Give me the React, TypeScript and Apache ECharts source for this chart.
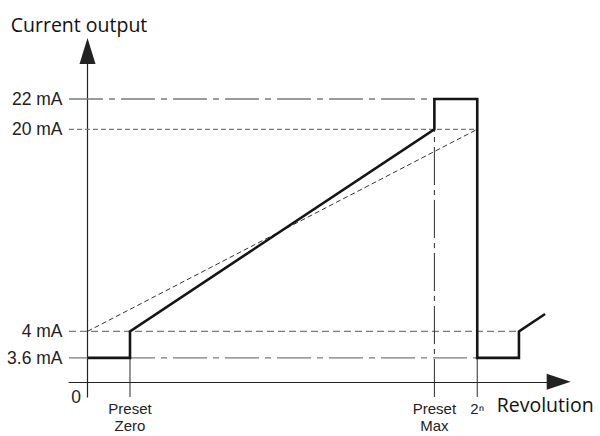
import React, { useEffect, useRef } from 'react';
import * as echarts from 'echarts';

// Schematic x positions on the revolution axis (2ⁿ = 100)
const xAxisMin = -4.75;
const xAxisMax = 120.9;
const xTickValues = [10.9, 89.0, 100];
const xTickLabels = ['Preset\nZero', 'Preset\nMax', '2ⁿ'];

// Schematic current levels as drawn on the y axis
const levelLabels = ['3.6 mA', '4 mA', '20 mA', '22 mA'];
const levelHeights = [1.9, 4, 20, 22.4];
const yAxisMin = -1.2;
const yAxisMax = 26.2;

// Current output curve (thick line)
const outputX = [0, 10.9, 10.9, 89.0, 89.0, 100, 100, 110.7, 110.7, 117.4];
const outputY = [1.9, 1.9, 4, 20, 22.4, 22.4, 1.9, 1.9, 4, 5.37];

// Ideal linear characteristic (thin dashed diagonal)
const idealX = [0, 100];
const idealY = [4, 20];

// Guide lines: end x of each horizontal level line
const levelLineEnds = [100, 110.7, 100, 100];
// Guide lines: top y of each vertical guide at the x ticks
const verticalTops = [4, 22.4, 1.9];

const SANS = "'Liberation Sans', Arial, sans-serif";
const HUMANIST = "'Open Sans', 'Noto Sans', sans-serif";

const DASH_DOT = [34, 6, 6, 6];
const VDASH_DOT = [38, 5, 5, 5];

export default function App() {
  const ref = useRef<HTMLDivElement>(null);

  useEffect(() => {
    if (!ref.current) return;
    const chart = echarts.init(ref.current, null, { renderer: 'svg' });

    const pairs = (xs: number[], ys: number[]) => xs.map((x, i) => [x, ys[i]]);

    const guide = (data: number[][], dash: any, color: string, width: number) => ({
      type: 'line',
      data,
      symbol: 'none',
      showSymbol: false,
      silent: true,
      z: 2,
      lineStyle: { type: dash, color, width, cap: 'butt' },
    });

    const levelDash = [DASH_DOT, [7, 4], [5, 3], DASH_DOT];
    const levelSeries = levelHeights.map((h, i) =>
      guide([[xAxisMin, h], [levelLineEnds[i], h]], levelDash[i], '#7a7a7a', 1.3)
    );
    const verticalSeries = xTickValues.map((x, i) =>
      guide([[x, yAxisMin], [x, verticalTops[i]]], VDASH_DOT, '#2a2a2a', 1)
    );

    const option: any = {
      animation: false,
      textStyle: { fontFamily: SANS },
      grid: {
        left: 69,
        right: 41.3,
        top: 51,
        bottom: 39,
        containLabel: false,
        outerBoundsMode: 'none',
      },
      xAxis: {
        type: 'value',
        min: xAxisMin,
        max: xAxisMax,
        name: 'Revolution',
        nameLocation: 'end',
        nameGap: -62,
        nameTextStyle: {
          fontFamily: HUMANIST,
          fontSize: 19.5,
          color: '#111',
          align: 'left',
          verticalAlign: 'top',
          lineHeight: 46,
        },
        axisLine: {
          onZero: true,
          symbol: ['none', 'triangle'],
          symbolSize: [16, 24],
          lineStyle: { color: '#222', width: 1.2 },
        },
        axisTick: { show: false },
        splitLine: { show: false },
        axisLabel: {
          customValues: xTickValues,
          formatter: (v: number) => {
            const i = xTickValues.findIndex((t) => Math.abs(t - v) < 1e-6);
            return i >= 0 ? xTickLabels[i] : '';
          },
          margin: 3,
          fontFamily: SANS,
          fontSize: 15,
          lineHeight: 17,
          color: '#222',
        },
      },
      yAxis: {
        type: 'value',
        min: yAxisMin,
        max: yAxisMax,
        name: 'Current output',
        nameLocation: 'end',
        nameGap: 17,
        nameTextStyle: {
          fontFamily: HUMANIST,
          fontSize: 19.5,
          color: '#111',
          padding: [0, 17, 0, 0],
        },
        axisLine: {
          onZero: true,
          symbol: ['none', 'triangle'],
          symbolSize: [16, 26],
          lineStyle: { color: '#222', width: 1.2 },
        },
        axisTick: { show: false },
        splitLine: { show: false },
        axisLabel: {
          customValues: levelHeights,
          formatter: (v: number) => {
            const i = levelHeights.findIndex((t) => Math.abs(t - v) < 1e-6);
            return i >= 0 ? levelLabels[i] : '';
          },
          margin: 6.5,
          fontFamily: SANS,
          fontSize: 17.5,
          color: '#222',
        },
      },
      graphic: [
        {
          type: 'text',
          x: 76,
          y: 397,
          style: {
            text: '0',
            fontFamily: SANS,
            fontSize: 17.5,
            fill: '#222',
            align: 'center',
            verticalAlign: 'middle',
          },
        },
      ],
      series: [
        ...levelSeries,
        ...verticalSeries,
        guide(pairs(idealX, idealY), [5, 3], '#333', 1),
        {
          type: 'line',
          data: pairs(outputX, outputY),
          symbol: 'none',
          showSymbol: false,
          silent: true,
          z: 5,
          lineStyle: { color: '#151515', width: 2.6, join: 'miter', cap: 'butt' },
        },
      ],
    };

    chart.setOption(option);
    return () => chart.dispose();
  }, []);

  return (
    <div
      ref={ref}
      style={{ position: 'fixed', left: 0, top: 0, width: 600, height: 436, background: '#fff' }}
    />
  );
}
